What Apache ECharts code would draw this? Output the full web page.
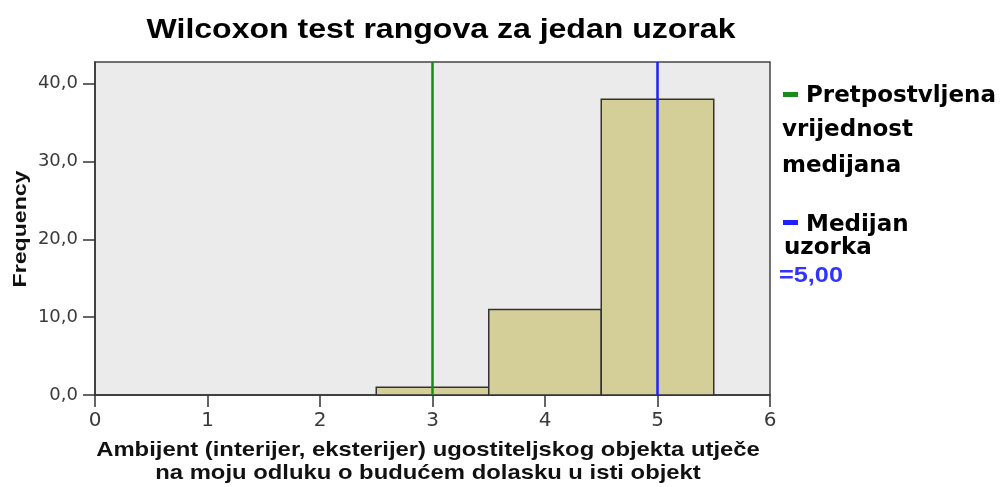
<!DOCTYPE html>
<html><head><meta charset="utf-8">
<script src="https://cdn.jsdelivr.net/npm/echarts@6/dist/echarts.min.js"></script>
<style>html,body{margin:0;padding:0;background:#fff}#c{width:1005px;height:487px}</style>
</head><body><div id="c"></div>
<script>
const binStarts = [2.5, 3.5, 4.5];
const binEnds = [3.5, 4.5, 5.5];
const frequencies = [1, 11, 38];
const hypothesizedMedian = 3;
const sampleMedian = 5;
const yTicks = [0, 10, 20, 30, 40];
const xTicks = [0, 1, 2, 3, 4, 5, 6];
const titleText = 'Wilcoxon test rangova za jedan uzorak';
const xTitleLines = ['Ambijent (interijer, eksterijer) ugostiteljskog objekta utječe', 'na moju odluku o budućem dolasku u isti objekt'];
const yTitle = 'Frequency';
const legendLines1 = ['Pretpostvljena', 'vrijednost', 'medijana'];
const legendLines2 = ['Medijan', 'uzorka'];
const medianLabel = '=5,00';

const chart = echarts.init(document.getElementById('c'), null, {renderer: 'canvas'});
const bars = binStarts.map((s, i) => [s, binEnds[i], frequencies[i]]);
const tf = 'Liberation Sans, Arial, sans-serif';
const df = 'DejaVu Sans, Verdana, sans-serif';
const green = '#1a8a1a', blue = '#2020ff';
chart.setOption({
  animation: false,
  grid: {left: 95, right: 235, top: 62, bottom: 92, show: true,
    backgroundColor: '#ebebeb', borderColor: '#444', borderWidth: 1.5},
  xAxis: {
    type: 'value', min: 0, max: 6, interval: 1,
    splitLine: {show: false},
    axisLine: {lineStyle: {color: '#333', width: 1.5}},
    axisTick: {show: true, length: 12, lineStyle: {color: '#333', width: 1.5}},
    axisLabel: {fontFamily: df, fontSize: 20, color: '#3a3a3a', margin: 16,
      formatter: v => xTicks.includes(v) ? String(v) : ''}
  },
  yAxis: {
    type: 'value', min: 0, max: 42.8, interval: 10,
    splitLine: {show: false},
    axisLine: {show: true, lineStyle: {color: '#333', width: 1.5}},
    axisTick: {show: true, length: 12, lineStyle: {color: '#333', width: 1.5}},
    axisLabel: {fontFamily: df, fontSize: 18, color: '#3a3a3a', margin: 17, showMaxLabel: false,
      padding: [5, 0, 0, 0],
      formatter: v => yTicks.includes(v) ? v.toFixed(1).replace('.', ',') : ''}
  },
  series: [{
    type: 'custom',
    data: bars,
    renderItem: (params, api) => {
      const p0 = api.coord([api.value(0), 0]);
      const p1 = api.coord([api.value(1), api.value(2)]);
      return {type: 'rect', shape: {x: p0[0], y: p1[1], width: p1[0] - p0[0], height: p0[1] - p1[1]},
        style: {fill: '#d4cf98', stroke: '#333', lineWidth: 1.5}};
    },
    encode: {x: [0, 1], y: 2},
    markLine: {
      symbol: 'none', silent: true, label: {show: false},
      data: [
        {xAxis: hypothesizedMedian, lineStyle: {color: green, width: 2.5, type: 'solid'}},
        {xAxis: sampleMedian, lineStyle: {color: blue, width: 2.5, type: 'solid'}}
      ]
    }
  }],
  graphic: [
    {type: 'text', x: 441, y: 30, scaleX: 1.144, style: {text: titleText, font: 'bold 28px ' + tf, fill: '#000', textAlign: 'center', textVerticalAlign: 'middle'}},
    {type: 'text', x: 428, y: 450, scaleX: 1.135, style: {text: xTitleLines[0], font: 'bold 21px ' + tf, fill: '#111', textAlign: 'center', textVerticalAlign: 'middle'}},
    {type: 'text', x: 428, y: 473, scaleX: 1.135, style: {text: xTitleLines[1], font: 'bold 21px ' + tf, fill: '#111', textAlign: 'center', textVerticalAlign: 'middle'}},
    {type: 'text', x: 21, y: 229, rotation: Math.PI / 2, scaleX: 1.285, style: {text: yTitle, font: 'bold 18px ' + tf, fill: '#111', textAlign: 'center', textVerticalAlign: 'middle'}},
    {type: 'rect', shape: {x: 783, y: 92, width: 15, height: 5}, style: {fill: green}},
    {type: 'text', x: 806, y: 96, style: {text: legendLines1[0], font: 'bold 23px ' + df, fill: '#000', textVerticalAlign: 'middle'}},
    {type: 'text', x: 782, y: 130, style: {text: legendLines1[1], font: 'bold 23px ' + df, fill: '#000', textVerticalAlign: 'middle'}},
    {type: 'text', x: 782, y: 166, style: {text: legendLines1[2], font: 'bold 23px ' + df, fill: '#000', textVerticalAlign: 'middle'}},
    {type: 'rect', shape: {x: 783, y: 220, width: 15, height: 5}, style: {fill: blue}},
    {type: 'text', x: 806, y: 225, style: {text: legendLines2[0], font: 'bold 23px ' + df, fill: '#000', textVerticalAlign: 'middle'}},
    {type: 'text', x: 784, y: 248, style: {text: legendLines2[1], font: 'bold 23px ' + df, fill: '#000', textVerticalAlign: 'middle'}},
    {type: 'text', x: 779, y: 276, scaleX: 1.15, style: {text: medianLabel, font: 'bold 22px ' + tf, fill: '#3333ff', textVerticalAlign: 'middle'}}
  ]
});
</script></body></html>
